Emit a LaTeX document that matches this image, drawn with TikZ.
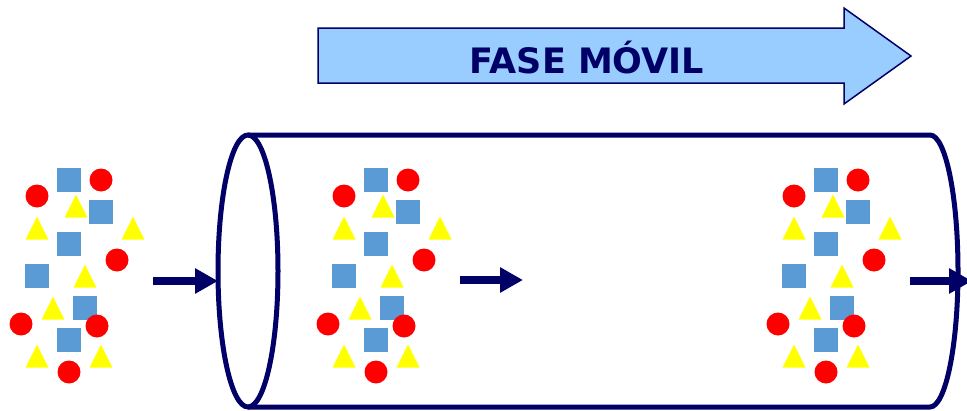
\documentclass[tikz,border=0pt]{standalone}
\usepackage{fontspec}
\newfontfamily\labelfont{DejaVu Sans}
\usetikzlibrary{arrows.meta}
\definecolor{navy}{HTML}{000066}
\definecolor{lightblue}{HTML}{99CCFF}
\definecolor{sqblue}{HTML}{5B9BD5}
\definecolor{dotred}{HTML}{FF0000}
\definecolor{triyellow}{HTML}{FFFF00}
\tikzset{
  sq/.style={rectangle, fill=sqblue, minimum size=24pt, inner sep=0pt},
  dot/.style={circle, fill=dotred, minimum size=23pt, inner sep=0pt},
  tri/.style={fill=triyellow},
  flowarrow/.style={draw=navy, line width=8pt, -{Triangle[length=23pt,width=24pt]}},
  tube/.style={draw=navy, line width=5pt},
}
\newcommand{\mycluster}[2]{%
  \foreach \x/\y [count=\i] in {69/180,101/212,69/244,37/276,85/308,69/340}
    \node[sq] (#2sq\i) at (\x+#1,\y) {};
  \foreach \x/\y in {76/206,37/228,133/228,85/276,53/308,37/356,101/356}
    \fill[tri] (\x+#1-11.5,\y+11.5) -- (\x+#1,\y-11.5) -- (\x+#1+11.5,\y+11.5) -- cycle;
  \foreach \x/\y [count=\i] in {101/180,37/196,117/260,21/324,97/326,69/372}
    \node[dot] (#2dot\i) at (\x+#1,\y) {};
}
\begin{document}
\begin{tikzpicture}[x=1pt,y=-1pt]
\useasboundingbox (0,0) rectangle (967,410);
% mobile phase arrow
\draw[navy, fill=lightblue, line width=1.5pt, line join=miter]
  (318,28) -- (844,28) -- (844,8) -- (911,56) -- (844,104) -- (844,83) -- (318,83) -- cycle;
\node[text=navy, font=\labelfont\fontsize{35}{40}\selectfont\bfseries] (fase) at (587,58) {FASE MÓVIL};
% column
\draw[tube] (248,271) ellipse [x radius=30, y radius=136];
\draw[tube] (248,135) -- (930,135) arc[start angle=-90, end angle=90, x radius=28, y radius=136] -- (248,407);
% clusters
\mycluster{0}{a}
\mycluster{307}{b}
\mycluster{757}{c}
% arrows
\coordinate (a1s) at (153,281);
\coordinate (a1e) at (218,281);
\coordinate (a2s) at (460,280);
\coordinate (a2e) at (523,280);
\coordinate (a3s) at (910,281);
\coordinate (a3e) at (972,281);
\draw[flowarrow] (a1s) -- (a1e);
\draw[flowarrow] (a2s) -- (a2e);
\draw[flowarrow] (a3s) -- (a3e);
\end{tikzpicture}
\end{document}
